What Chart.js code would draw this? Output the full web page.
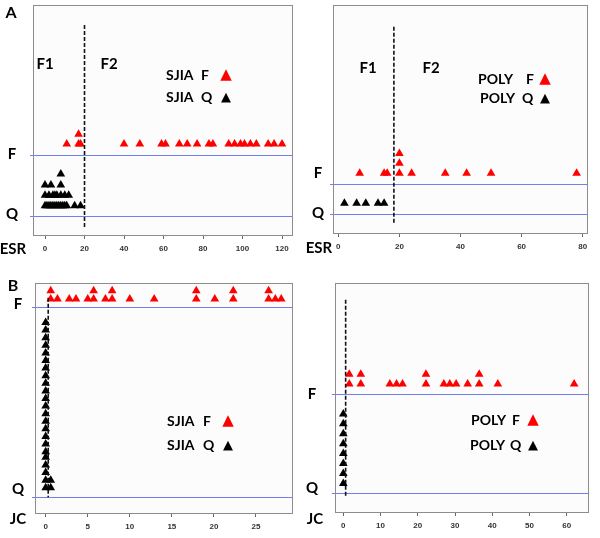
<!DOCTYPE html>
<html>
<head>
<meta charset="utf-8">
<script src="https://cdn.jsdelivr.net/npm/chart.js@4.4.0/dist/chart.umd.min.js"></script>
<style>
body { margin: 0; background: #fff; }
#wrap { position: relative; width: 600px; height: 538px; overflow: hidden; font-family: Lato, "Open Sans", sans-serif; font-weight: bold; color: #000; }
canvas { position: absolute; left: 0; top: 0; }
.lab { position: absolute; transform: translate(-50%, -50%); font-size: 15px; line-height: 1; white-space: nowrap; }
.leg { position: absolute; transform: translateY(-50%); font-size: 14px; line-height: 1; white-space: nowrap; }
.tri { position: absolute; transform: translate(-50%, -50%); font-family: "DejaVu Sans", sans-serif; line-height: 1; }
</style>
</head>
<body>
<div id="wrap">
  <canvas id="sjia_esr" width="600" height="538"></canvas>
  <canvas id="poly_esr" width="600" height="538"></canvas>
  <canvas id="sjia_jc" width="600" height="538"></canvas>
  <canvas id="poly_jc" width="600" height="538"></canvas>

  <!-- panel A -->
  <div class="lab" style="left:11px;top:12px;font-size:16px">A</div>
  <div class="lab" style="left:45px;top:63px">F1</div>
  <div class="lab" style="left:109px;top:63px">F2</div>
  <div class="leg" style="left:166px;top:75px">SJIA</div>
  <div class="leg" style="left:201px;top:75px">F</div>
  <div class="tri" style="left:226px;top:74px;font-size:15px;color:#ff0000">▲</div>
  <div class="leg" style="left:166px;top:97px">SJIA</div>
  <div class="leg" style="left:201px;top:97px">Q</div>
  <div class="tri" style="left:226px;top:96px;font-size:13px">▲</div>
  <div class="lab" style="left:12px;top:153px">F</div>
  <div class="lab" style="left:12px;top:213px">Q</div>
  <div class="lab" style="left:13px;top:248px">ESR</div>

  <!-- panel A right (POLY ESR) -->
  <div class="lab" style="left:368px;top:67px">F1</div>
  <div class="lab" style="left:431px;top:67px">F2</div>
  <div class="leg" style="left:478px;top:79px">POLY</div>
  <div class="leg" style="left:526px;top:79px">F</div>
  <div class="tri" style="left:545px;top:78px;font-size:15px;color:#ff0000">▲</div>
  <div class="leg" style="left:480px;top:98px">POLY</div>
  <div class="leg" style="left:522px;top:98px">Q</div>
  <div class="tri" style="left:545px;top:97px;font-size:13px">▲</div>
  <div class="lab" style="left:318px;top:172px">F</div>
  <div class="lab" style="left:318px;top:212px">Q</div>
  <div class="lab" style="left:319px;top:247px">ESR</div>

  <!-- panel B -->
  <div class="lab" style="left:13px;top:285px;font-size:16px">B</div>
  <div class="lab" style="left:18px;top:303px">F</div>
  <div class="lab" style="left:18px;top:488px">Q</div>
  <div class="lab" style="left:18px;top:518px">JC</div>
  <div class="leg" style="left:167px;top:421px">SJIA</div>
  <div class="leg" style="left:203px;top:421px">F</div>
  <div class="tri" style="left:228px;top:420px;font-size:15px;color:#ff0000">▲</div>
  <div class="leg" style="left:167px;top:445px">SJIA</div>
  <div class="leg" style="left:203px;top:445px">Q</div>
  <div class="tri" style="left:228px;top:444px;font-size:13px">▲</div>

  <!-- panel B right (POLY JC) -->
  <div class="lab" style="left:312px;top:393px">F</div>
  <div class="lab" style="left:312px;top:487px">Q</div>
  <div class="lab" style="left:315px;top:518px">JC</div>
  <div class="leg" style="left:471px;top:420px">POLY</div>
  <div class="leg" style="left:512px;top:420px">F</div>
  <div class="tri" style="left:533px;top:419px;font-size:15px;color:#ff0000">▲</div>
  <div class="leg" style="left:470px;top:445px">POLY</div>
  <div class="leg" style="left:510px;top:445px">Q</div>
  <div class="tri" style="left:533px;top:444px;font-size:13px">▲</div>
</div>

<script>
// SJIA, ESR
const sjia_esr_ticks = [0, 20, 40, 60, 80, 100, 120];
const sjia_esr_flare_x = [11, 17, 18, 40, 48, 59, 61, 68, 72, 77, 83, 85, 93, 96, 99, 101, 104, 107, 113, 116, 120, 17];
const sjia_esr_flare_y = [1.18, 1.18, 1.18, 1.18, 1.18, 1.18, 1.18, 1.18, 1.18, 1.18, 1.18, 1.18, 1.18, 1.18, 1.18, 1.18, 1.18, 1.18, 1.18, 1.18, 1.18, 1.34];
const sjia_esr_quiet_x = [0, 1, 2, 3, 4, 5, 6, 7, 8, 9, 10, 11, 15, 18, 0, 2, 4, 5, 6, 8, 10, 12, 0, 3, 8, 8];
const sjia_esr_quiet_y = [0.17, 0.17, 0.17, 0.17, 0.17, 0.17, 0.17, 0.17, 0.17, 0.17, 0.17, 0.17, 0.17, 0.17,
                          0.34, 0.34, 0.34, 0.34, 0.34, 0.34, 0.34, 0.34, 0.51, 0.51, 0.51, 0.69];
const sjia_esr_cut_x = [20, 20];
const sjia_esr_cut_y = [3.13, -0.18];

// POLY, ESR
const poly_esr_ticks = [0, 20, 40, 60, 80];
const poly_esr_flare_x = [7, 15, 16, 20, 24, 35, 42, 50, 78, 20, 20];
const poly_esr_flare_y = [1.36, 1.36, 1.36, 1.36, 1.36, 1.36, 1.36, 1.36, 1.36, 1.69, 2.02];
const poly_esr_quiet_x = [2, 6, 9, 13, 15];
const poly_esr_quiet_y = [0.36, 0.36, 0.36, 0.36, 0.36];
const poly_esr_cut_x = [18.2, 18.2];
const poly_esr_cut_y = [6.24, -0.33];

// SJIA, JC
const sjia_jc_ticks = [0, 5, 10, 15, 20, 25];
const sjia_jc_flare_x = [0.6, 1.4, 2.8, 3.6, 5.0, 5.7, 7.1, 7.9, 10.0, 12.9, 17.9, 20.1, 22.3, 26.5, 27.3, 28.0,
                         0.6, 5.7, 7.9, 17.9, 22.3, 26.5];
const sjia_jc_flare_y = [1.044, 1.044, 1.044, 1.044, 1.044, 1.044, 1.044, 1.044, 1.044, 1.044, 1.044, 1.044, 1.044, 1.044, 1.044, 1.044,
                         1.087, 1.087, 1.087, 1.087, 1.087, 1.087];
const sjia_jc_quiet_x = [0, 0, 0, 0, 0, 0, 0, 0, 0, 0, 0, 0, 0, 0, 0, 0, 0, 0, 0, 0, 0, 0, 0, 0.6, 0.6];
const sjia_jc_quiet_y = [0.05, 0.09, 0.13, 0.17, 0.21, 0.24, 0.28, 0.32, 0.36, 0.40, 0.44, 0.48,
                         0.52, 0.56, 0.60, 0.64, 0.68, 0.72, 0.76, 0.80, 0.84, 0.88, 0.92, 0.05, 0.09];
const sjia_jc_cut_x = [0.3, 0.3];
const sjia_jc_cut_y = [1.05, 0];

// POLY, JC
const poly_jc_ticks = [0, 10, 20, 30, 40, 50, 60];
const poly_jc_flare_x = [1.6, 4.7, 12.5, 14.3, 15.9, 22.2, 27.0, 28.6, 30.3, 33.4, 36.5, 41.5, 62.0, 1.6, 4.7, 22.2, 36.5];
const poly_jc_flare_y = [1.10, 1.10, 1.10, 1.10, 1.10, 1.10, 1.10, 1.10, 1.10, 1.10, 1.10, 1.10, 1.10, 1.20, 1.20, 1.20, 1.20];
const poly_jc_quiet_x = [0, 0, 0, 0, 0, 0, 0, 0];
const poly_jc_quiet_y = [0.10, 0.20, 0.30, 0.40, 0.50, 0.60, 0.70, 0.80];
const poly_jc_cut_x = [0.63, 0.63];
const poly_jc_cut_y = [1.95, -0.03];

// Q and F levels on the y scale
const state_levels = [0, 1];

const RED = '#ff0000';
const BLUE = '#6f7ff0';
const AXIS_H = 22;

function pts(xs, ys)
{
    return xs.map((x, i) => ({ x: x, y: ys[i] }));
}

// plot background and grey frame round the chart area
const boxPlugin = {
    id: 'box',
    beforeDraw(chart)
    {
        const a = chart.chartArea;
        const ctx = chart.ctx;
        ctx.save();
        ctx.fillStyle = '#fbfcfb';
        ctx.fillRect(a.left, a.top, a.right - a.left, a.bottom - a.top);
        ctx.restore();
    },
    beforeDatasetsDraw(chart)
    {
        const a = chart.chartArea;
        const ctx = chart.ctx;
        ctx.save();
        ctx.strokeStyle = '#8c8c8c';
        ctx.lineWidth = 1;
        ctx.strokeRect(Math.round(a.left) + 0.5, Math.round(a.top) + 0.5, Math.round(a.right - a.left), Math.round(a.bottom - a.top));
        ctx.restore();
    }
};

function makePanel(id, box, xr, yr, ticks, flare, quiet, cut)
{
    const ctx = document.getElementById(id).getContext('2d');
    return new Chart(ctx, {
        type: 'scatter',
        data: {
            datasets: [
                {
                    type: 'line',
                    data: cut,
                    borderColor: '#111',
                    borderWidth: 1.6,
                    borderDash: [4, 2],
                    pointRadius: 0,
                    clip: false
                },
                {
                    label: 'F',
                    data: flare,
                    pointStyle: 'triangle',
                    pointRadius: 5,
                    backgroundColor: RED,
                    borderWidth: 0
                },
                {
                    label: 'Q',
                    data: quiet,
                    pointStyle: 'triangle',
                    pointRadius: 5,
                    backgroundColor: '#000',
                    borderWidth: 0
                }
            ]
        },
        options: {
            responsive: false,
            animation: false,
            events: [],
            layout: {
                padding: { left: box.l, top: box.t, right: 600 - box.r, bottom: 538 - box.b - AXIS_H }
            },
            plugins: { legend: { display: false }, tooltip: { enabled: false } },
            scales: {
                x: {
                    type: 'linear',
                    min: xr[0],
                    max: xr[1],
                    afterBuildTicks: s => { s.ticks = ticks.map(v => ({ value: v })); },
                    afterFit: s => { s.height = AXIS_H; },
                    grid: { drawOnChartArea: false, drawTicks: true, tickLength: 4, color: '#666' },
                    border: { display: false },
                    ticks: {
                        autoSkip: false,
                        maxRotation: 0,
                        padding: 5,
                        color: '#333',
                        font: { family: 'Liberation Sans', size: 8, weight: 'bold' }
                    }
                },
                y: {
                    type: 'linear',
                    min: yr[0],
                    max: yr[1],
                    afterBuildTicks: s => { s.ticks = state_levels.map(v => ({ value: v })); },
                    afterFit: s => { s.width = 0; },
                    grid: { color: BLUE, lineWidth: 1, drawTicks: true, tickLength: 3 },
                    border: { display: false },
                    ticks: { display: false }
                }
            }
        },
        plugins: [boxPlugin]
    });
}

makePanel('sjia_esr', { l: 33, t: 5, r: 292, b: 235 }, [-6.08, 125.06], [-0.311, 3.459], sjia_esr_ticks,
    pts(sjia_esr_flare_x, sjia_esr_flare_y), pts(sjia_esr_quiet_x, sjia_esr_quiet_y), pts(sjia_esr_cut_x, sjia_esr_cut_y));

makePanel('poly_esr', { l: 333, t: 5, r: 587, b: 233 }, [-1.73, 81.4], [-0.633, 6.967], poly_esr_ticks,
    pts(poly_esr_flare_x, poly_esr_flare_y), pts(poly_esr_quiet_x, poly_esr_quiet_y), pts(poly_esr_cut_x, poly_esr_cut_y));

makePanel('sjia_jc', { l: 35, t: 283, r: 292, b: 513 }, [-1.27, 29.28], [-0.083, 1.128], sjia_jc_ticks,
    pts(sjia_jc_flare_x, sjia_jc_flare_y), pts(sjia_jc_quiet_x, sjia_jc_quiet_y), pts(sjia_jc_cut_x, sjia_jc_cut_y));

makePanel('poly_jc', { l: 335, t: 283, r: 588, b: 512 }, [-2.23, 65.72], [-0.188, 2.118], poly_jc_ticks,
    pts(poly_jc_flare_x, poly_jc_flare_y), pts(poly_jc_quiet_x, poly_jc_quiet_y), pts(poly_jc_cut_x, poly_jc_cut_y));
</script>
</body>
</html>
